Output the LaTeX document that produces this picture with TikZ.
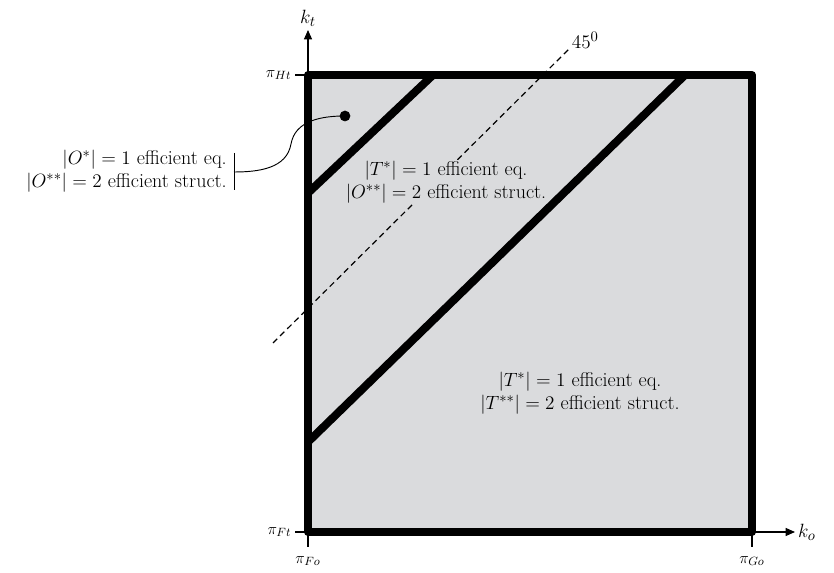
\documentclass[tikz,border=0pt]{standalone}
\usepackage{amsmath}
\usetikzlibrary{calc}
\usetikzlibrary{arrows.meta}
\definecolor{boxgray}{RGB}{218,219,221}

\begin{document}
\begin{tikzpicture}[x=0.75pt, y=0.75pt, font=\fontsize{15}{17}\selectfont,
    wall/.style={line width=6pt, line join=round},
    axis/.style={line width=0.8pt, -{Triangle[length=7pt, width=6pt]}},
    tick/.style={line width=0.8pt},
    ticklabel/.style={font=\fontsize{12.5}{14}\selectfont, inner sep=2.5pt}]
    \useasboundingbox (-308,-41) rectangle (526,532);

    \coordinate (O) at (0, 0);
    \coordinate (Ht) at (0, 457);
    \coordinate (Go) at (444, 0);
    \coordinate (G) at (444, 457);
    \fill [boxgray] (O) rectangle (G);

    % axes
    \draw [axis] (O) -- (487, 0) node[right, inner sep=2pt] (ko) {$k_o$};
    \draw [axis] (O) -- (0, 502) node[above, inner sep=2pt] (kt) {$k_t$};

    % ticks
    \draw [tick] (Ht) -- ++(-13, 0) node[left, ticklabel] (piHt) {$\pi_{Ht}$};
    \draw [tick] (O) -- ++(-13, 0) node[left, ticklabel] (piFt) {$\pi_{Ft}$};
    \draw [tick] (O) -- ++(0, -15) node[below, ticklabel, yshift=-4pt] (piFo) {$\pi_{Fo}$};
    \draw [tick] (Go) -- ++(0, -15) node[below, ticklabel, yshift=-4pt] (piGo) {$\pi_{Go}$};

    % 45 degree line
    \coordinate (d1) at (-35, 189);
    \coordinate (d2) at (262, 484);
    \draw [line width=0.9pt, dash pattern=on 4.5pt off 3pt] (d1) -- (d2)
        node[right, inner sep=1pt, yshift=6pt] (deg) {$45^0$};

    % labels
    \node[align=center, fill=boxgray, inner sep=1pt] (mid) at (138, 350) {$|T^{*}| = 1$ efficient eq.\\ $|O^{**}| = 2$ efficient struct.};
    \node[align=center] (low) at (272, 139) {$|T^{*}| = 1$ efficient eq.\\ $|T^{**}| = 2$ efficient struct.};
    \node[align=right, anchor=east, inner sep=0pt] (left) at (-81, 361) {$|O^{*}| = 1$ efficient eq.\\ $|O^{**}| = 2$ efficient struct.};

    % borders of the regions
    \coordinate (u1) at (0, 339);
    \coordinate (u2) at (125, 457);
    \coordinate (l1) at (0, 90);
    \coordinate (l2) at (377, 457);
    \draw [wall] (u1) -- (u2);
    \draw [wall] (l1) -- (l2);
    \draw [wall] (O) rectangle (G);

    % corner point and its bracket
    \filldraw (37, 416) circle (3.8pt) coordinate (dot);
    \coordinate (b1) at (-74, 379);
    \coordinate (b2) at (-74, 342);
    \coordinate (bm) at (-74, 360);
    \draw [line width=0.7pt] (b1) -- (b2);
    \draw [line width=0.7pt] (dot) to[out=180, in=80] (-17, 388) to[out=260, in=0] (bm);
\end{tikzpicture}
\end{document}
